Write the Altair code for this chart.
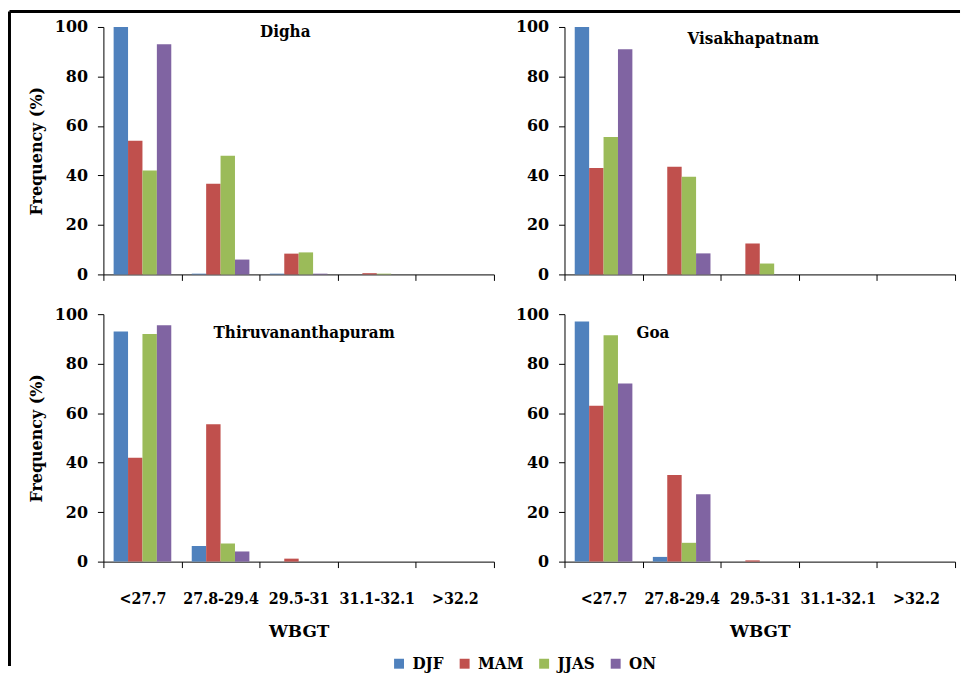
import altair as alt
import pandas as pd

categories = ["<27.7", "27.8-29.4", "29.5-31", "31.1-32.1", ">32.2"]
seasons = ["DJF", "MAM", "JJAS", "ON"]
colors = ["#4F81BD", "#C0504D", "#9BBB59", "#8064A2"]

# Digha
digha_djf = [100, 0.3, 0.3, 0, 0]
digha_mam = [54, 36.6, 8.4, 0.5, 0]
digha_jjas = [42, 48, 8.9, 0.3, 0]
digha_on = [93, 6, 0.3, 0, 0]
# Visakhapatnam
visakha_djf = [100, 0, 0, 0, 0]
visakha_mam = [43, 43.5, 12.5, 0, 0]
visakha_jjas = [55.5, 39.5, 4.4, 0, 0]
visakha_on = [91, 8.5, 0, 0, 0]
# Thiruvananthapuram
thiru_djf = [93, 6.3, 0, 0, 0]
thiru_mam = [42, 55.5, 1.2, 0, 0]
thiru_jjas = [92, 7.3, 0, 0, 0]
thiru_on = [95.5, 4.1, 0, 0, 0]
# Goa
goa_djf = [97, 1.9, 0, 0, 0]
goa_mam = [63, 35, 0.5, 0, 0]
goa_jjas = [91.5, 7.6, 0, 0, 0]
goa_on = [72, 27.2, 0, 0, 0]

FONT = "DejaVu Serif"
FONTC = "DejaVu Serif Condensed"
W, H = 393, 249


def make_df(series):
    rows = []
    for s, vals in zip(seasons, series):
        for c, v in zip(categories, vals):
            rows.append({"WBGT": c, "Season": s, "Freq": v})
    return pd.DataFrame(rows)


def panel(name, series, bottom, left, tx, ty, border=False):
    df = make_df(series)
    xaxis = alt.Axis(
        labels=bottom,
        title="WBGT" if bottom else None,
        tickBand="extent",
        labelAngle=0,
    )
    yaxis = alt.Axis(
        values=[0, 20, 40, 60, 80, 100],
        title="Frequency (%)" if left else None,
    )
    bars = alt.Chart(df).mark_bar().encode(
        x=alt.X("WBGT:N", sort=categories,
                scale=alt.Scale(paddingInner=0, paddingOuter=0), axis=xaxis),
        xOffset=alt.XOffset("Season:N", sort=seasons,
                            scale=alt.Scale(paddingInner=0, paddingOuter=0.71)),
        y=alt.Y("Freq:Q", scale=alt.Scale(domain=[0, 100], nice=False), axis=yaxis),
        color=alt.Color("Season:N", sort=seasons,
                        scale=alt.Scale(domain=seasons, range=colors),
                        legend=alt.Legend(title=None)),
    )
    label = alt.Chart(pd.DataFrame({"t": [name]})).mark_text(
        font=FONTC, fontWeight="bold", fontSize=17, color="black",
        align="center", baseline="alphabetic"
    ).encode(text="t:N", x=alt.value(tx), y=alt.value(ty))
    layers = [bars, label]
    if border:
        one = pd.DataFrame({"a": [0]})
        left_line = alt.Chart(one).mark_rule(color="black", strokeWidth=3).encode(
            x=alt.value(-94.5), y=alt.value(-15.5), y2=alt.value(643))
        top_line = alt.Chart(one).mark_rule(color="black", strokeWidth=3).encode(
            x=alt.value(-94.5), x2=alt.value(862), y=alt.value(-15.5))
        layers += [left_line, top_line]
    return alt.layer(*layers).properties(width=W, height=H)


tl = panel("Digha", [digha_djf, digha_mam, digha_jjas, digha_on], False, True, 183, 10.5, border=True)
tr = panel("Visakhapatnam", [visakha_djf, visakha_mam, visakha_jjas, visakha_on], False, False, 190, 17)
bl = panel("Thiruvananthapuram", [thiru_djf, thiru_mam, thiru_jjas, thiru_on], True, True, 202, 23.5)
br = panel("Goa", [goa_djf, goa_mam, goa_jjas, goa_on], True, False, 89, 23.5)

chart = alt.concat(
    tl, tr, bl, br, columns=2, spacing={"row": 40, "column": 71}, bounds="flush"
).properties(
    padding={"left": 0, "top": 0, "right": 0, "bottom": 0}
).configure(
    font=FONT
).configure_view(
    stroke=None
).configure_axis(
    grid=False,
    domainColor="black",
    tickColor="black",
    tickSize=6,
    labelFont=FONT,
    titleFont=FONT,
    labelFontWeight="bold",
    labelFontSize=16,
    labelColor="black",
    titleFontWeight="bold",
    titleFontSize=16,
    titleColor="black",
).configure_axisY(
    labelPadding=10,
    titlePadding=10,
).configure_axisX(
    labelFont=FONTC,
    labelFontSize=16,
    labelPadding=23,
    titlePadding=17,
    titleFontSize=17,
).configure_legend(
    orient="none",
    legendX=289,
    legendY=632,
    direction="horizontal",
    symbolType="square",
    symbolSize=100,
    symbolStrokeWidth=0,
    labelFont=FONTC,
    labelFontWeight="bold",
    labelFontSize=17,
    labelColor="black",
    labelOffset=5,
    columnPadding=12,
    padding=0,
)

chart.save("out.html", embed_options={"renderer": "svg", "actions": False})
